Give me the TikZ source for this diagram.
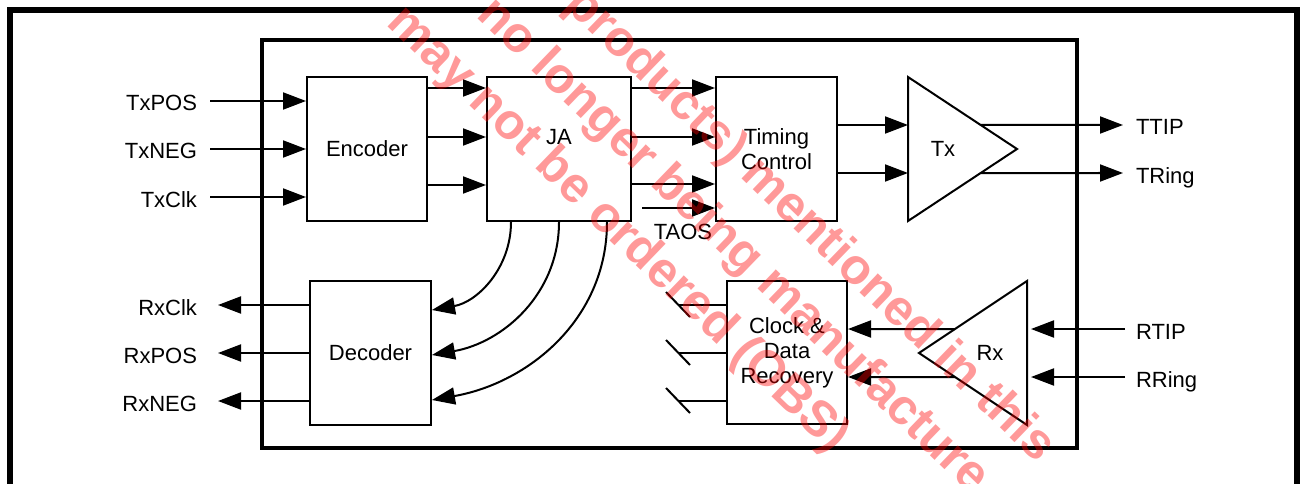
\documentclass[tikz,border=0pt]{standalone}
\usepackage{fontspec}
\setmainfont{Liberation Sans}
\usetikzlibrary{arrows.meta, calc}

\begin{document}
\begin{tikzpicture}[x=1pt, y=-1pt, line width=2pt,
    font=\fontsize{22}{25}\selectfont,
    blk/.style={draw, inner sep=0pt, minimum width=121pt, minimum height=144pt, align=center},
    lbl/.style={inner sep=6pt},
    sig/.style={-{Triangle[length=23pt, width=17pt]}},
    stamp/.style={text=red, text opacity=0.4, inner sep=0pt, anchor=base west, rotate=-44,
      font=\fontsize{50}{68}\selectfont\bfseries}]
  \useasboundingbox (0,0) rectangle (1304,484);
  \clip (0,0) rectangle (1304,484);

  % frames
  \draw[line width=6pt] (10,500) -- (10,10) -- (1297,10) -- (1297,500);
  \draw[line width=3.5pt] (262,40) rectangle (1077,448);

  % blocks
  \node[blk, minimum width=120pt] (enc) at (367,149) {Encoder};
  \node[blk, minimum width=144pt, label={[yshift=12pt]center:JA}] (ja) at (559,149) {};
  \node[blk] (tim) at (776.5,149) {Timing\\Control};
  \node[blk] (dec) at (370.5,353) {Decoder};
  \node[blk, minimum width=120pt, minimum height=143pt] (cdr) at (787,352.5) {Clock \&\\Data\\Recovery};

  % line driver and receiver
  \draw (908,77) coordinate (tx-t) -- (908,221) coordinate (tx-b) -- (1017,149) coordinate (tx-a) -- cycle;
  \node (tx) at (943,149) {Tx};
  \draw (1027,281) coordinate (rx-t) -- (1027,425) coordinate (rx-b) -- (919,353) coordinate (rx-a) -- cycle;
  \node (rx) at (990,353) {Rx};

  % transmit side
  \foreach \y/\t [count=\i] in {101/TxPOS, 149/TxNEG, 197/TxClk} {
    \node[lbl, anchor=base east] (tin\i) at (204,\y+10) {\t};
    \draw[sig, shorten <=6pt] (tin\i.east |- 0,\y) -- (enc.west |- 0,\y);
  }
  \foreach \y in {88,137,185}
    \draw[sig] (enc.east |- 0,\y) -- (ja.west |- 0,\y);
  \foreach \y in {88,137,184}
    \draw[sig] (ja.east |- 0,\y) -- (tim.west |- 0,\y);
  \node (taos) at (683,232) {TAOS};
  \coordinate (taos-s) at (642,208);
  \draw[sig] (taos-s) -- (tim.west |- taos-s);
  \foreach \y in {125,173}
    \draw[sig] (tim.east |- 0,\y) -- (tx-t |- 0,\y);
  \node[lbl, anchor=base west] (ttip) at (1129,135) {TTIP};
  \node[lbl, anchor=base west] (tring) at (1129,183) {TRing};
  \draw[sig, shorten >=6pt] ($(tx-t)!2/3!(tx-a)$) -- (ttip.west |- 0,125);
  \draw[sig, shorten >=6pt] ($(tx-b)!2/3!(tx-a)$) -- (tring.west |- 0,173);

  % jitter attenuator to decoder
  \foreach \x/\y in {511/310, 559/355, 607/400}
    \draw[sig] (ja.south -| \x,0) to[out=-90, in=10] (dec.east |- 0,\y);

  % receive side
  \foreach \y/\t [count=\i] in {305/RxClk, 353/RxPOS, 401/RxNEG} {
    \node[lbl, anchor=base east] (rout\i) at (204,\y+10) {\t};
    \draw[sig, shorten >=14pt] (dec.west |- 0,\y) -- (rout\i.east |- 0,\y);
    \draw (cdr.west |- 0,\y) -- ++(-47,0);
    \draw ($(cdr.west |- 0,\y)+(-60,-13)$) -- ++(24,25);
  }
  \node[lbl, anchor=base west] (rtip) at (1129,339) {RTIP};
  \node[lbl, anchor=base west] (rring) at (1129,387) {RRing};
  \draw[sig, shorten <=4pt, shorten >=4pt] (rtip.west |- 0,329) -- (rx-t |- 0,329);
  \draw[sig, shorten <=4pt, shorten >=4pt] (rring.west |- 0,377) -- (rx-t |- 0,377);
  \draw[sig] ($(rx-a)!1/3!(rx-t)$) -- (cdr.east |- 0,329);
  \draw[sig] ($(rx-a)!1/3!(rx-b)$) -- (cdr.east |- 0,377);

  % stamp
  \node[stamp] (wm1) at (563,6) {products) mentioned in this};
  \node[stamp] (wm2) at (475,16) {no longer being manufacture};
  \node[stamp] (wm3) at (384.7,23.5) {may not be ordered (OBS)};
\end{tikzpicture}
\end{document}
